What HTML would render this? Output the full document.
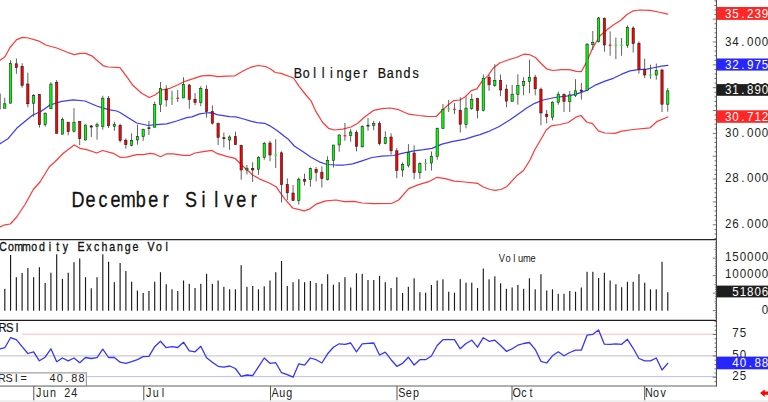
<!DOCTYPE html>
<html lang="en"><head><meta charset="utf-8"><title>December Silver</title>
<style>html,body{margin:0;padding:0;background:#fff;}body{width:768px;height:402px;overflow:hidden;}svg{display:block;}</style></head>
<body>
<svg width="768" height="402" viewBox="0 0 768 402" font-family="'Liberation Sans', Arial, sans-serif">
<rect x="0" y="0" width="768" height="402" fill="#ffffff"/>
<rect x="0" y="400.3" width="768" height="2" fill="#ececec"/>
<line x1="22" y1="334.2" x2="716" y2="334.2" stroke="#ffa4a4" stroke-width="0.75"/>
<line x1="0" y1="355.9" x2="716" y2="355.9" stroke="#b8b8b8" stroke-width="0.9"/>
<line x1="86" y1="376.6" x2="716" y2="376.6" stroke="#aaaaff" stroke-width="0.8"/>
<polyline points="0,60.3 5,56.7 10,47.5 16.7,39.7 22.5,37.3 28.3,38 38.3,40.8 45.8,45 56.7,48 66.7,52 74.2,54.7 80,53.3 85.8,53.3 91.7,55.8 103.3,65.8 108.3,67 120,67.6 126.7,76.7 133.3,85.8 141.7,93.3 149.2,97.5 155,95 161.7,90 170,88.3 177.5,85 185,81.3 193.3,78.7 201.7,75.8 210,75.3 218.3,76.7 226.7,76.2 235,75.8 241.7,71.7 248,68.5 252.7,66.7 258.5,65.5 266,66.7 271,69.2 275.2,72.5 281,73.3 293.5,78 299.3,86.7 306,95 311,100.8 316,111.7 322.7,122.5 328.5,128.3 334.3,130 342.7,129.2 351,127 357.7,123.3 364,117.5 373.7,110.3 382,108.7 390.3,108 398.7,109.7 408.7,114.2 418.7,115.5 427,116.3 436.3,116.5 442.5,110 448.1,105 453.8,100.6 460,100 465.6,96.5 471.3,90.6 476.9,88.8 482.5,80.6 488.1,75.6 493,68.3 499.7,63 508,60 516.3,57.5 523.8,54.2 529.7,54.7 535.5,57.5 541.3,63.7 547.2,69.2 553,70.5 561.3,69.7 569.7,69.7 576.3,71.3 581.3,71.7 586.7,61.7 592.2,49 600,35.8 606.7,30 613.3,25 620.8,20.3 626.7,14.7 633.3,10.8 640,10 650,10.3 658.3,12 667.8,14.2" fill="none" stroke="#ff3a3a" stroke-width="1.25" stroke-linejoin="round" stroke-linecap="round"/>
<polyline points="0,227 5,224.8 10.3,224 16.7,217 25,204.5 33.3,189.5 40,182 49.2,167 55,161.7 63.3,153.3 74.2,145 80,148.3 86.7,149.7 96.7,153 102.5,150.5 113.3,153.3 120,157.3 126.7,157.2 136.7,154.7 143.3,154.7 150,153.3 155,154.2 160.5,156.7 166.7,153.8 173.3,153.8 183.3,155.3 190,155.3 195,153 203.3,151.7 211.7,150.3 216.7,153.3 226.7,156.3 235,158.3 241.7,165 248,170.8 252.7,175 261,179.7 269.3,183 276,186.7 284.3,198.3 292.7,208 299.3,209.7 304.3,210.8 309.3,209.2 316,204.2 326,200.8 336,200 344.3,201.7 354.3,201.3 362,203 373.7,203.7 392,203.3 398.7,200 408.7,188.7 418.7,184.7 428.7,181.7 437,177.3 445.3,178.7 454.2,181.2 465,182 477.5,183.3 483.3,187 490,189.5 495,190.3 500.8,189.5 506.7,186.7 516.7,175.8 523.5,170.5 530,160 534.7,150 546.3,130 551.3,125.8 560,124.5 568.3,122.5 575.8,117.2 580.8,115.5 586.7,122 592.5,123.7 598.3,130.8 605,133 615,133.3 621.7,131.2 633.3,129.5 650,127.8 656.7,121.7 667.8,117" fill="none" stroke="#ff3a3a" stroke-width="1.25" stroke-linejoin="round" stroke-linecap="round"/>
<polyline points="0,143.8 8.3,138.4 16.7,128.3 23.3,122.7 32.5,115.2 41.25,111.2 50,105 61.7,101.3 73.3,99.8 85,101 96.7,106 108.3,109.7 116.7,111 120,112.5 128.3,117.8 136.7,123 148.3,125.5 155.8,124.7 166.7,123.9 176.7,121 186.7,117.6 192,116.9 199.5,113.9 205.75,113 212,112.6 217,114.6 229.5,116.7 235.75,116.9 242,118.5 250.75,121.2 257,122.7 264.5,123.3 269.5,125.6 277,130.6 284.3,136.3 288,138.9 294.3,146 302.7,151.5 311,157.2 319.3,161.8 326.8,164.5 336,165 344.3,165 352.7,163.8 362,160.8 372,157.5 382,156.2 393.7,155.5 402,153.3 413.7,150.8 423.7,149.7 432,148.3 442,144.2 452,141.7 465.3,139.2 473.7,136.3 480,134.7 488,131.7 498.8,126.7 509.7,120 518,114.2 526.3,108.3 534.7,103.3 543,100 554.7,97.5 568,95.8 576.3,94.2 584.7,91.2 596,84.8 605,81.2 613.3,78.3 621.7,74.2 630,70.8 638.3,69.7 646.7,69.2 655,67.5 661.7,66.2 667.8,65.4" fill="none" stroke="#3a3aff" stroke-width="1.25" stroke-linejoin="round" stroke-linecap="round"/>
<g>
<rect x="-0.6" y="93.5" width="1.2" height="15.8" fill="#3c3c3c"/>
<rect x="4.4" y="97.7" width="0.8" height="10.5" fill="#3c3c3c"/>
<rect x="3.65" y="103.8" width="2.3" height="4.4" fill="#00ff00" stroke="#181818" stroke-width="0.55"/>
<rect x="10.16" y="60.2" width="0.8" height="43" fill="#3c3c3c"/>
<rect x="9.41" y="63.5" width="2.3" height="39.7" fill="#00ff00" stroke="#181818" stroke-width="0.55"/>
<rect x="15.93" y="58.5" width="0.8" height="15.3" fill="#3c3c3c"/>
<rect x="15.18" y="63.8" width="2.3" height="3.9" fill="#ff0000" stroke="#181818" stroke-width="0.55"/>
<rect x="21.7" y="63.2" width="0.8" height="24.5" fill="#3c3c3c"/>
<rect x="20.95" y="66.3" width="2.3" height="19.2" fill="#ff0000" stroke="#181818" stroke-width="0.55"/>
<rect x="27.46" y="72.7" width="0.8" height="34.7" fill="#3c3c3c"/>
<rect x="26.71" y="84" width="2.3" height="19.8" fill="#ff0000" stroke="#181818" stroke-width="0.55"/>
<rect x="33.23" y="94" width="0.8" height="22.8" fill="#3c3c3c"/>
<rect x="32.48" y="95.7" width="2.3" height="7.5" fill="#00ff00" stroke="#181818" stroke-width="0.55"/>
<rect x="38.99" y="94" width="0.8" height="33.5" fill="#3c3c3c"/>
<rect x="38.24" y="94.7" width="2.3" height="30" fill="#ff0000" stroke="#181818" stroke-width="0.55"/>
<rect x="44.75" y="112.5" width="0.8" height="14.2" fill="#3c3c3c"/>
<rect x="44" y="113.2" width="2.3" height="11.5" fill="#00ff00" stroke="#181818" stroke-width="0.55"/>
<rect x="50.52" y="82.3" width="0.8" height="26.5" fill="#3c3c3c"/>
<rect x="49.77" y="84" width="2.3" height="24.8" fill="#00ff00" stroke="#181818" stroke-width="0.55"/>
<rect x="56.28" y="80.2" width="0.8" height="53.1" fill="#3c3c3c"/>
<rect x="55.53" y="82.2" width="2.3" height="51.1" fill="#ff0000" stroke="#181818" stroke-width="0.55"/>
<rect x="62.05" y="117.5" width="0.8" height="16.7" fill="#3c3c3c"/>
<rect x="61.3" y="119.7" width="2.3" height="14.5" fill="#00ff00" stroke="#181818" stroke-width="0.55"/>
<rect x="67.81" y="122.2" width="0.8" height="13.1" fill="#3c3c3c"/>
<rect x="67.06" y="122.2" width="2.3" height="9.5" fill="#ff0000" stroke="#181818" stroke-width="0.55"/>
<rect x="73.58" y="108.2" width="0.8" height="24.3" fill="#3c3c3c"/>
<rect x="72.83" y="122.5" width="2.3" height="8.7" fill="#00ff00" stroke="#181818" stroke-width="0.55"/>
<rect x="79.34" y="121.3" width="0.8" height="24" fill="#3c3c3c"/>
<rect x="78.59" y="121.3" width="2.3" height="17.4" fill="#ff0000" stroke="#181818" stroke-width="0.55"/>
<rect x="85.11" y="124.5" width="0.8" height="16" fill="#3c3c3c"/>
<rect x="84.36" y="125" width="2.3" height="15" fill="#00ff00" stroke="#181818" stroke-width="0.55"/>
<rect x="90.87" y="125" width="0.8" height="12" fill="#3c3c3c"/>
<rect x="89.82" y="125.6" width="2.9" height="1.8" fill="#4a1010"/>
<rect x="96.64" y="122.5" width="0.8" height="17.2" fill="#3c3c3c"/>
<rect x="95.89" y="124.7" width="2.3" height="2" fill="#00ff00" stroke="#181818" stroke-width="0.55"/>
<rect x="102.4" y="95.7" width="0.8" height="34" fill="#3c3c3c"/>
<rect x="101.65" y="98.2" width="2.3" height="28.1" fill="#00ff00" stroke="#181818" stroke-width="0.55"/>
<rect x="108.17" y="96" width="0.8" height="32" fill="#3c3c3c"/>
<rect x="107.42" y="98.2" width="2.3" height="27.6" fill="#ff0000" stroke="#181818" stroke-width="0.55"/>
<rect x="113.93" y="121.7" width="0.8" height="9.1" fill="#3c3c3c"/>
<rect x="113.18" y="124.2" width="2.3" height="2.1" fill="#00ff00" stroke="#181818" stroke-width="0.55"/>
<rect x="119.7" y="123.7" width="0.8" height="18.8" fill="#3c3c3c"/>
<rect x="118.95" y="125.3" width="2.3" height="15.2" fill="#ff0000" stroke="#181818" stroke-width="0.55"/>
<rect x="125.46" y="138.3" width="0.8" height="10.4" fill="#3c3c3c"/>
<rect x="124.71" y="140.2" width="2.3" height="4.5" fill="#ff0000" stroke="#181818" stroke-width="0.55"/>
<rect x="131.23" y="133.3" width="0.8" height="13" fill="#3c3c3c"/>
<rect x="130.48" y="140.5" width="2.3" height="4.8" fill="#00ff00" stroke="#181818" stroke-width="0.55"/>
<rect x="137" y="124.5" width="0.8" height="20.2" fill="#3c3c3c"/>
<rect x="136.25" y="136.7" width="2.3" height="3.3" fill="#00ff00" stroke="#181818" stroke-width="0.55"/>
<rect x="142.76" y="128.7" width="0.8" height="12.1" fill="#3c3c3c"/>
<rect x="142.01" y="129.7" width="2.3" height="7" fill="#00ff00" stroke="#181818" stroke-width="0.55"/>
<rect x="148.53" y="120.8" width="0.8" height="14.2" fill="#3c3c3c"/>
<rect x="147.48" y="127.3" width="2.9" height="1.6" fill="#0c4a0c"/>
<rect x="154.29" y="101.7" width="0.8" height="25.5" fill="#3c3c3c"/>
<rect x="153.54" y="104.7" width="2.3" height="22.5" fill="#00ff00" stroke="#181818" stroke-width="0.55"/>
<rect x="160.06" y="82" width="0.8" height="30" fill="#3c3c3c"/>
<rect x="159.31" y="88.7" width="2.3" height="16" fill="#00ff00" stroke="#181818" stroke-width="0.55"/>
<rect x="165.82" y="85.3" width="0.8" height="21.4" fill="#3c3c3c"/>
<rect x="165.07" y="89.7" width="2.3" height="10.3" fill="#ff0000" stroke="#181818" stroke-width="0.55"/>
<rect x="171.59" y="90.8" width="0.8" height="14.2" fill="#3c3c3c"/>
<rect x="170.64" y="97.65" width="2.7" height="1.3" fill="#30f030"/>
<rect x="177.35" y="90" width="0.8" height="12" fill="#3c3c3c"/>
<rect x="176.4" y="97.65" width="2.7" height="1.3" fill="#ff2020"/>
<rect x="183.12" y="77.2" width="0.8" height="20.8" fill="#3c3c3c"/>
<rect x="182.37" y="84.5" width="2.3" height="13.5" fill="#00ff00" stroke="#181818" stroke-width="0.55"/>
<rect x="188.88" y="84" width="0.8" height="24.8" fill="#3c3c3c"/>
<rect x="188.13" y="85" width="2.3" height="14.5" fill="#ff0000" stroke="#181818" stroke-width="0.55"/>
<rect x="194.64" y="93" width="0.8" height="12.3" fill="#3c3c3c"/>
<rect x="193.89" y="99.2" width="2.3" height="3.3" fill="#ff0000" stroke="#181818" stroke-width="0.55"/>
<rect x="200.41" y="86.2" width="0.8" height="20" fill="#3c3c3c"/>
<rect x="199.66" y="88.7" width="2.3" height="13.8" fill="#00ff00" stroke="#181818" stroke-width="0.55"/>
<rect x="206.17" y="85.3" width="0.8" height="32.2" fill="#3c3c3c"/>
<rect x="205.42" y="89.2" width="2.3" height="22.5" fill="#ff0000" stroke="#181818" stroke-width="0.55"/>
<rect x="211.94" y="105.3" width="0.8" height="19.2" fill="#3c3c3c"/>
<rect x="211.19" y="111.7" width="2.3" height="11.5" fill="#ff0000" stroke="#181818" stroke-width="0.55"/>
<rect x="217.7" y="122.5" width="0.8" height="22.5" fill="#3c3c3c"/>
<rect x="216.95" y="123.5" width="2.3" height="14" fill="#ff0000" stroke="#181818" stroke-width="0.55"/>
<rect x="223.47" y="132.5" width="0.8" height="15" fill="#3c3c3c"/>
<rect x="222.42" y="137.3" width="2.9" height="1.6" fill="#4a1010"/>
<rect x="229.23" y="135.3" width="0.8" height="14.4" fill="#3c3c3c"/>
<rect x="228.48" y="137" width="2.3" height="3" fill="#00ff00" stroke="#181818" stroke-width="0.55"/>
<rect x="235" y="131.7" width="0.8" height="13.3" fill="#3c3c3c"/>
<rect x="234.25" y="136.7" width="2.3" height="8" fill="#ff0000" stroke="#181818" stroke-width="0.55"/>
<rect x="240.76" y="144.7" width="0.8" height="35" fill="#3c3c3c"/>
<rect x="240.01" y="145.5" width="2.3" height="24.5" fill="#ff0000" stroke="#181818" stroke-width="0.55"/>
<rect x="246.53" y="165" width="0.8" height="9.5" fill="#3c3c3c"/>
<rect x="245.78" y="168.2" width="2.3" height="1.8" fill="#00ff00" stroke="#181818" stroke-width="0.55"/>
<rect x="252.29" y="162.2" width="0.8" height="19.8" fill="#3c3c3c"/>
<rect x="251.54" y="168.3" width="2.3" height="1.7" fill="#ff0000" stroke="#181818" stroke-width="0.55"/>
<rect x="258.06" y="156.3" width="0.8" height="18.4" fill="#3c3c3c"/>
<rect x="257.31" y="157.5" width="2.3" height="11.7" fill="#00ff00" stroke="#181818" stroke-width="0.55"/>
<rect x="263.83" y="142" width="0.8" height="17.7" fill="#3c3c3c"/>
<rect x="263.08" y="143.3" width="2.3" height="14" fill="#00ff00" stroke="#181818" stroke-width="0.55"/>
<rect x="269.59" y="140.8" width="0.8" height="20.4" fill="#3c3c3c"/>
<rect x="268.84" y="143" width="2.3" height="12" fill="#ff0000" stroke="#181818" stroke-width="0.55"/>
<rect x="275.36" y="139.2" width="0.8" height="28.8" fill="#3c3c3c"/>
<rect x="274.4" y="154.55" width="2.7" height="1.3" fill="#30f030"/>
<rect x="281.12" y="151.3" width="0.8" height="51.2" fill="#3c3c3c"/>
<rect x="280.37" y="152.8" width="2.3" height="31.9" fill="#ff0000" stroke="#181818" stroke-width="0.55"/>
<rect x="286.88" y="178.3" width="0.8" height="21.7" fill="#3c3c3c"/>
<rect x="286.13" y="184.5" width="2.3" height="8.3" fill="#ff0000" stroke="#181818" stroke-width="0.55"/>
<rect x="292.65" y="185" width="0.8" height="15.8" fill="#3c3c3c"/>
<rect x="291.9" y="193" width="2.3" height="7.5" fill="#ff0000" stroke="#181818" stroke-width="0.55"/>
<rect x="298.42" y="177.5" width="0.8" height="27.2" fill="#3c3c3c"/>
<rect x="297.67" y="179.2" width="2.3" height="21.1" fill="#00ff00" stroke="#181818" stroke-width="0.55"/>
<rect x="304.18" y="173.7" width="0.8" height="11.8" fill="#3c3c3c"/>
<rect x="303.43" y="179.2" width="2.3" height="2" fill="#ff0000" stroke="#181818" stroke-width="0.55"/>
<rect x="309.94" y="167.5" width="0.8" height="19.2" fill="#3c3c3c"/>
<rect x="309.19" y="168.7" width="2.3" height="11" fill="#00ff00" stroke="#181818" stroke-width="0.55"/>
<rect x="315.71" y="167" width="0.8" height="14.3" fill="#3c3c3c"/>
<rect x="314.96" y="169.5" width="2.3" height="3" fill="#ff0000" stroke="#181818" stroke-width="0.55"/>
<rect x="321.48" y="166.3" width="0.8" height="21.2" fill="#3c3c3c"/>
<rect x="320.73" y="172.2" width="2.3" height="6.5" fill="#ff0000" stroke="#181818" stroke-width="0.55"/>
<rect x="327.24" y="156.3" width="0.8" height="24.2" fill="#3c3c3c"/>
<rect x="326.49" y="160.3" width="2.3" height="19.4" fill="#00ff00" stroke="#181818" stroke-width="0.55"/>
<rect x="333" y="145" width="0.8" height="22.5" fill="#3c3c3c"/>
<rect x="332.25" y="145" width="2.3" height="15.3" fill="#00ff00" stroke="#181818" stroke-width="0.55"/>
<rect x="338.77" y="134.2" width="0.8" height="17.5" fill="#3c3c3c"/>
<rect x="338.02" y="135" width="2.3" height="10" fill="#00ff00" stroke="#181818" stroke-width="0.55"/>
<rect x="344.54" y="123" width="0.8" height="17.8" fill="#3c3c3c"/>
<rect x="343.58" y="135.15" width="2.7" height="1.3" fill="#ff2020"/>
<rect x="350.3" y="128.8" width="0.8" height="12.9" fill="#3c3c3c"/>
<rect x="349.55" y="132" width="2.3" height="3.5" fill="#00ff00" stroke="#181818" stroke-width="0.55"/>
<rect x="356.06" y="130.3" width="0.8" height="21" fill="#3c3c3c"/>
<rect x="355.31" y="132.5" width="2.3" height="13.8" fill="#ff0000" stroke="#181818" stroke-width="0.55"/>
<rect x="361.83" y="125.4" width="0.8" height="22.1" fill="#3c3c3c"/>
<rect x="361.08" y="126.7" width="2.3" height="20.1" fill="#00ff00" stroke="#181818" stroke-width="0.55"/>
<rect x="367.6" y="118" width="0.8" height="12.8" fill="#3c3c3c"/>
<rect x="366.55" y="124.8" width="2.9" height="1.7" fill="#0c4a0c"/>
<rect x="373.36" y="120.8" width="0.8" height="9.5" fill="#3c3c3c"/>
<rect x="372.61" y="123.3" width="2.3" height="2" fill="#00ff00" stroke="#181818" stroke-width="0.55"/>
<rect x="379.12" y="121.3" width="0.8" height="24" fill="#3c3c3c"/>
<rect x="378.38" y="123.7" width="2.3" height="20" fill="#ff0000" stroke="#181818" stroke-width="0.55"/>
<rect x="384.89" y="131.3" width="0.8" height="12.9" fill="#3c3c3c"/>
<rect x="384.14" y="137.5" width="2.3" height="6.2" fill="#00ff00" stroke="#181818" stroke-width="0.55"/>
<rect x="390.66" y="133.3" width="0.8" height="21.4" fill="#3c3c3c"/>
<rect x="389.91" y="137" width="2.3" height="13.8" fill="#ff0000" stroke="#181818" stroke-width="0.55"/>
<rect x="396.42" y="148.2" width="0.8" height="30.1" fill="#3c3c3c"/>
<rect x="395.67" y="150.8" width="2.3" height="19.5" fill="#ff0000" stroke="#181818" stroke-width="0.55"/>
<rect x="402.19" y="162.5" width="0.8" height="14.2" fill="#3c3c3c"/>
<rect x="401.44" y="164.6" width="2.3" height="5.4" fill="#00ff00" stroke="#181818" stroke-width="0.55"/>
<rect x="407.95" y="144.2" width="0.8" height="23.3" fill="#3c3c3c"/>
<rect x="407.2" y="152.3" width="2.3" height="13.1" fill="#00ff00" stroke="#181818" stroke-width="0.55"/>
<rect x="413.72" y="145.3" width="0.8" height="33.9" fill="#3c3c3c"/>
<rect x="412.97" y="153" width="2.3" height="19.5" fill="#ff0000" stroke="#181818" stroke-width="0.55"/>
<rect x="419.48" y="162.5" width="0.8" height="16.2" fill="#3c3c3c"/>
<rect x="418.73" y="163.3" width="2.3" height="9.5" fill="#00ff00" stroke="#181818" stroke-width="0.55"/>
<rect x="425.25" y="158.7" width="0.8" height="12.1" fill="#3c3c3c"/>
<rect x="424.29" y="162.65" width="2.7" height="1.3" fill="#30f030"/>
<rect x="431.01" y="151.5" width="0.8" height="19" fill="#3c3c3c"/>
<rect x="430.26" y="156.2" width="2.3" height="6.8" fill="#00ff00" stroke="#181818" stroke-width="0.55"/>
<rect x="436.78" y="127.5" width="0.8" height="32.2" fill="#3c3c3c"/>
<rect x="436.03" y="128.7" width="2.3" height="27.7" fill="#00ff00" stroke="#181818" stroke-width="0.55"/>
<rect x="442.54" y="104" width="0.8" height="24.7" fill="#3c3c3c"/>
<rect x="441.79" y="109.5" width="2.3" height="19.2" fill="#00ff00" stroke="#181818" stroke-width="0.55"/>
<rect x="448.31" y="100" width="0.8" height="11.9" fill="#3c3c3c"/>
<rect x="447.35" y="108.35" width="2.7" height="1.3" fill="#30f030"/>
<rect x="454.07" y="103.1" width="0.8" height="10.9" fill="#3c3c3c"/>
<rect x="453.12" y="108.75" width="2.7" height="1.3" fill="#ff2020"/>
<rect x="459.84" y="97.3" width="0.8" height="35.2" fill="#3c3c3c"/>
<rect x="459.09" y="110.2" width="2.3" height="14" fill="#ff0000" stroke="#181818" stroke-width="0.55"/>
<rect x="465.6" y="96.9" width="0.8" height="31.4" fill="#3c3c3c"/>
<rect x="464.85" y="108.2" width="2.3" height="16.3" fill="#00ff00" stroke="#181818" stroke-width="0.55"/>
<rect x="471.37" y="93.9" width="0.8" height="16" fill="#3c3c3c"/>
<rect x="470.62" y="99.5" width="2.3" height="8.9" fill="#00ff00" stroke="#181818" stroke-width="0.55"/>
<rect x="477.13" y="97.7" width="0.8" height="20.7" fill="#3c3c3c"/>
<rect x="476.38" y="98.6" width="2.3" height="11.9" fill="#ff0000" stroke="#181818" stroke-width="0.55"/>
<rect x="482.89" y="74.5" width="0.8" height="36.9" fill="#3c3c3c"/>
<rect x="482.14" y="78.2" width="2.3" height="32.2" fill="#00ff00" stroke="#181818" stroke-width="0.55"/>
<rect x="488.66" y="75" width="0.8" height="15.9" fill="#3c3c3c"/>
<rect x="487.91" y="77.3" width="2.3" height="7.5" fill="#ff0000" stroke="#181818" stroke-width="0.55"/>
<rect x="494.43" y="64.2" width="0.8" height="22.6" fill="#3c3c3c"/>
<rect x="493.68" y="80.5" width="2.3" height="5" fill="#00ff00" stroke="#181818" stroke-width="0.55"/>
<rect x="500.19" y="74.5" width="0.8" height="21.7" fill="#3c3c3c"/>
<rect x="499.44" y="80.5" width="2.3" height="9.5" fill="#ff0000" stroke="#181818" stroke-width="0.55"/>
<rect x="505.95" y="84.5" width="0.8" height="22.7" fill="#3c3c3c"/>
<rect x="505.2" y="89.1" width="2.3" height="12" fill="#ff0000" stroke="#181818" stroke-width="0.55"/>
<rect x="511.72" y="85" width="0.8" height="17" fill="#3c3c3c"/>
<rect x="510.97" y="94.2" width="2.3" height="7" fill="#00ff00" stroke="#181818" stroke-width="0.55"/>
<rect x="517.48" y="74.2" width="0.8" height="30.5" fill="#3c3c3c"/>
<rect x="516.73" y="85.3" width="2.3" height="9.4" fill="#00ff00" stroke="#181818" stroke-width="0.55"/>
<rect x="523.25" y="77.2" width="0.8" height="18.1" fill="#3c3c3c"/>
<rect x="522.5" y="81.3" width="2.3" height="4" fill="#00ff00" stroke="#181818" stroke-width="0.55"/>
<rect x="529.01" y="59.7" width="0.8" height="33.6" fill="#3c3c3c"/>
<rect x="528.26" y="77.2" width="2.3" height="4.1" fill="#00ff00" stroke="#181818" stroke-width="0.55"/>
<rect x="534.78" y="74.7" width="0.8" height="20.6" fill="#3c3c3c"/>
<rect x="534.03" y="77.2" width="2.3" height="11.6" fill="#ff0000" stroke="#181818" stroke-width="0.55"/>
<rect x="540.54" y="87.5" width="0.8" height="37.8" fill="#3c3c3c"/>
<rect x="539.79" y="89.2" width="2.3" height="23.8" fill="#ff0000" stroke="#181818" stroke-width="0.55"/>
<rect x="546.31" y="110" width="0.8" height="13.3" fill="#3c3c3c"/>
<rect x="545.56" y="114.2" width="2.3" height="2.5" fill="#ff0000" stroke="#181818" stroke-width="0.55"/>
<rect x="552.07" y="101.3" width="0.8" height="19" fill="#3c3c3c"/>
<rect x="551.32" y="102.2" width="2.3" height="15" fill="#00ff00" stroke="#181818" stroke-width="0.55"/>
<rect x="557.84" y="91.7" width="0.8" height="13" fill="#3c3c3c"/>
<rect x="557.09" y="94.2" width="2.3" height="8" fill="#00ff00" stroke="#181818" stroke-width="0.55"/>
<rect x="563.6" y="93.3" width="0.8" height="18.7" fill="#3c3c3c"/>
<rect x="562.85" y="94.5" width="2.3" height="6.8" fill="#ff0000" stroke="#181818" stroke-width="0.55"/>
<rect x="569.37" y="90.8" width="0.8" height="21.2" fill="#3c3c3c"/>
<rect x="568.62" y="95" width="2.3" height="6.7" fill="#00ff00" stroke="#181818" stroke-width="0.55"/>
<rect x="575.13" y="79.2" width="0.8" height="17.8" fill="#3c3c3c"/>
<rect x="574.38" y="90.8" width="2.3" height="4.7" fill="#00ff00" stroke="#181818" stroke-width="0.55"/>
<rect x="580.9" y="83" width="0.8" height="16.6" fill="#3c3c3c"/>
<rect x="579.85" y="89.8" width="2.9" height="1.7" fill="#4a1010"/>
<rect x="586.66" y="43" width="0.8" height="48.3" fill="#3c3c3c"/>
<rect x="585.91" y="44.2" width="2.3" height="46.1" fill="#00ff00" stroke="#181818" stroke-width="0.55"/>
<rect x="592.43" y="31" width="0.8" height="19" fill="#3c3c3c"/>
<rect x="591.68" y="42.5" width="2.3" height="2.2" fill="#00ff00" stroke="#181818" stroke-width="0.55"/>
<rect x="598.19" y="17" width="0.8" height="25.5" fill="#3c3c3c"/>
<rect x="597.44" y="18" width="2.3" height="23.7" fill="#00ff00" stroke="#181818" stroke-width="0.55"/>
<rect x="603.96" y="17.5" width="0.8" height="34.2" fill="#3c3c3c"/>
<rect x="603.21" y="18.3" width="2.3" height="26.7" fill="#ff0000" stroke="#181818" stroke-width="0.55"/>
<rect x="609.72" y="31.3" width="0.8" height="24.5" fill="#3c3c3c"/>
<rect x="608.77" y="44.65" width="2.7" height="1.3" fill="#ff2020"/>
<rect x="615.49" y="37.5" width="0.8" height="21.7" fill="#3c3c3c"/>
<rect x="614.54" y="44.65" width="2.7" height="1.3" fill="#30f030"/>
<rect x="621.25" y="38" width="0.8" height="17.8" fill="#3c3c3c"/>
<rect x="620.3" y="44.65" width="2.7" height="1.3" fill="#30f030"/>
<rect x="627.02" y="25.3" width="0.8" height="22.5" fill="#3c3c3c"/>
<rect x="626.27" y="27.5" width="2.3" height="17.8" fill="#00ff00" stroke="#181818" stroke-width="0.55"/>
<rect x="632.78" y="26.3" width="0.8" height="26.2" fill="#3c3c3c"/>
<rect x="632.03" y="28" width="2.3" height="15.7" fill="#ff0000" stroke="#181818" stroke-width="0.55"/>
<rect x="638.55" y="41.3" width="0.8" height="32.4" fill="#3c3c3c"/>
<rect x="637.8" y="43.3" width="2.3" height="26.4" fill="#ff0000" stroke="#181818" stroke-width="0.55"/>
<rect x="644.31" y="58.7" width="0.8" height="19.3" fill="#3c3c3c"/>
<rect x="643.56" y="69.7" width="2.3" height="5.3" fill="#ff0000" stroke="#181818" stroke-width="0.55"/>
<rect x="650.08" y="64.7" width="0.8" height="14" fill="#3c3c3c"/>
<rect x="649.13" y="74.35" width="2.7" height="1.3" fill="#30f030"/>
<rect x="655.84" y="63.5" width="0.8" height="16.2" fill="#3c3c3c"/>
<rect x="655.09" y="70.3" width="2.3" height="4.7" fill="#00ff00" stroke="#181818" stroke-width="0.55"/>
<rect x="661.61" y="68.7" width="0.8" height="43.3" fill="#3c3c3c"/>
<rect x="660.86" y="70" width="2.3" height="34.2" fill="#ff0000" stroke="#181818" stroke-width="0.55"/>
<rect x="667.37" y="88.1" width="0.8" height="23.6" fill="#3c3c3c"/>
<rect x="666.62" y="90.9" width="2.3" height="13.3" fill="#00ff00" stroke="#181818" stroke-width="0.55"/>
</g>
<g fill="#1c1c1c">
<rect x="4.23" y="288.8" width="1.15" height="21.9"/>
<rect x="9.99" y="255" width="1.15" height="55.7"/>
<rect x="15.76" y="277.2" width="1.15" height="33.5"/>
<rect x="21.52" y="273" width="1.15" height="37.7"/>
<rect x="27.29" y="268" width="1.15" height="42.7"/>
<rect x="33.05" y="277.2" width="1.15" height="33.5"/>
<rect x="38.82" y="267.2" width="1.15" height="43.5"/>
<rect x="44.58" y="283" width="1.15" height="27.7"/>
<rect x="50.35" y="272.7" width="1.15" height="38"/>
<rect x="56.11" y="254.3" width="1.15" height="56.4"/>
<rect x="61.88" y="278.8" width="1.15" height="31.9"/>
<rect x="67.65" y="272.7" width="1.15" height="38"/>
<rect x="73.41" y="262.2" width="1.15" height="48.5"/>
<rect x="79.17" y="258.5" width="1.15" height="52.2"/>
<rect x="84.94" y="277.2" width="1.15" height="33.5"/>
<rect x="90.7" y="288.3" width="1.15" height="22.4"/>
<rect x="96.47" y="277.2" width="1.15" height="33.5"/>
<rect x="102.23" y="254.3" width="1.15" height="56.4"/>
<rect x="108" y="261.7" width="1.15" height="49"/>
<rect x="113.77" y="282.2" width="1.15" height="28.5"/>
<rect x="119.53" y="263" width="1.15" height="47.7"/>
<rect x="125.3" y="271" width="1.15" height="39.7"/>
<rect x="131.06" y="281.7" width="1.15" height="29"/>
<rect x="136.83" y="290.5" width="1.15" height="20.2"/>
<rect x="142.59" y="293" width="1.15" height="17.7"/>
<rect x="148.36" y="291" width="1.15" height="19.7"/>
<rect x="154.12" y="281.7" width="1.15" height="29"/>
<rect x="159.89" y="272.2" width="1.15" height="38.5"/>
<rect x="165.65" y="284.2" width="1.15" height="26.5"/>
<rect x="171.42" y="289.3" width="1.15" height="21.4"/>
<rect x="177.18" y="291" width="1.15" height="19.7"/>
<rect x="182.95" y="280.5" width="1.15" height="30.2"/>
<rect x="188.71" y="283.8" width="1.15" height="26.9"/>
<rect x="194.47" y="288" width="1.15" height="22.7"/>
<rect x="200.24" y="283.8" width="1.15" height="26.9"/>
<rect x="206" y="273.8" width="1.15" height="36.9"/>
<rect x="211.77" y="283.8" width="1.15" height="26.9"/>
<rect x="217.53" y="280.5" width="1.15" height="30.2"/>
<rect x="223.3" y="286.8" width="1.15" height="23.9"/>
<rect x="229.06" y="289.3" width="1.15" height="21.4"/>
<rect x="234.83" y="289.3" width="1.15" height="21.4"/>
<rect x="240.59" y="265.2" width="1.15" height="45.5"/>
<rect x="246.36" y="286.8" width="1.15" height="23.9"/>
<rect x="252.12" y="286" width="1.15" height="24.7"/>
<rect x="257.89" y="289.3" width="1.15" height="21.4"/>
<rect x="263.66" y="286.3" width="1.15" height="24.4"/>
<rect x="269.42" y="280.5" width="1.15" height="30.2"/>
<rect x="275.19" y="272.2" width="1.15" height="38.5"/>
<rect x="280.95" y="261" width="1.15" height="49.7"/>
<rect x="286.71" y="286" width="1.15" height="24.7"/>
<rect x="292.48" y="282.2" width="1.15" height="28.5"/>
<rect x="298.25" y="279.2" width="1.15" height="31.5"/>
<rect x="304.01" y="282.2" width="1.15" height="28.5"/>
<rect x="309.77" y="281" width="1.15" height="29.7"/>
<rect x="315.54" y="283" width="1.15" height="27.7"/>
<rect x="321.31" y="283.8" width="1.15" height="26.9"/>
<rect x="327.07" y="274.2" width="1.15" height="36.5"/>
<rect x="332.83" y="284.7" width="1.15" height="26"/>
<rect x="338.6" y="282.2" width="1.15" height="28.5"/>
<rect x="344.37" y="277.2" width="1.15" height="33.5"/>
<rect x="350.13" y="287.5" width="1.15" height="23.2"/>
<rect x="355.89" y="273.3" width="1.15" height="37.4"/>
<rect x="361.66" y="273.8" width="1.15" height="36.9"/>
<rect x="367.43" y="280" width="1.15" height="30.7"/>
<rect x="373.19" y="280" width="1.15" height="30.7"/>
<rect x="378.95" y="275.8" width="1.15" height="34.9"/>
<rect x="384.72" y="282.2" width="1.15" height="28.5"/>
<rect x="390.49" y="288" width="1.15" height="22.7"/>
<rect x="396.25" y="277.2" width="1.15" height="33.5"/>
<rect x="402.01" y="293" width="1.15" height="17.7"/>
<rect x="407.78" y="286.8" width="1.15" height="23.9"/>
<rect x="413.55" y="278.3" width="1.15" height="32.4"/>
<rect x="419.31" y="292.2" width="1.15" height="18.5"/>
<rect x="425.07" y="292.7" width="1.15" height="18"/>
<rect x="430.84" y="285" width="1.15" height="25.7"/>
<rect x="436.61" y="280.5" width="1.15" height="30.2"/>
<rect x="442.37" y="279.3" width="1.15" height="31.4"/>
<rect x="448.13" y="291.7" width="1.15" height="19"/>
<rect x="453.9" y="292.7" width="1.15" height="18"/>
<rect x="459.67" y="279.2" width="1.15" height="31.5"/>
<rect x="465.43" y="282.7" width="1.15" height="28"/>
<rect x="471.19" y="282.7" width="1.15" height="28"/>
<rect x="476.96" y="288" width="1.15" height="22.7"/>
<rect x="482.72" y="268.5" width="1.15" height="42.2"/>
<rect x="488.49" y="279.3" width="1.15" height="31.4"/>
<rect x="494.25" y="276.3" width="1.15" height="34.4"/>
<rect x="500.02" y="283.3" width="1.15" height="27.4"/>
<rect x="505.78" y="288.8" width="1.15" height="21.9"/>
<rect x="511.55" y="287.5" width="1.15" height="23.2"/>
<rect x="517.31" y="285" width="1.15" height="25.7"/>
<rect x="523.08" y="288.8" width="1.15" height="21.9"/>
<rect x="528.84" y="278.3" width="1.15" height="32.4"/>
<rect x="534.61" y="289.3" width="1.15" height="21.4"/>
<rect x="540.37" y="274.2" width="1.15" height="36.5"/>
<rect x="546.14" y="290.5" width="1.15" height="20.2"/>
<rect x="551.9" y="289.3" width="1.15" height="21.4"/>
<rect x="557.67" y="293.8" width="1.15" height="16.9"/>
<rect x="563.43" y="293.8" width="1.15" height="16.9"/>
<rect x="569.2" y="291" width="1.15" height="19.7"/>
<rect x="574.96" y="291.7" width="1.15" height="19"/>
<rect x="580.73" y="287.5" width="1.15" height="23.2"/>
<rect x="586.49" y="271.8" width="1.15" height="38.9"/>
<rect x="592.26" y="271.8" width="1.15" height="38.9"/>
<rect x="598.02" y="278" width="1.15" height="32.7"/>
<rect x="603.79" y="272.7" width="1.15" height="38"/>
<rect x="609.55" y="280.5" width="1.15" height="30.2"/>
<rect x="615.32" y="284.2" width="1.15" height="26.5"/>
<rect x="621.08" y="287.2" width="1.15" height="23.5"/>
<rect x="626.85" y="281.8" width="1.15" height="28.9"/>
<rect x="632.61" y="281.8" width="1.15" height="28.9"/>
<rect x="638.38" y="274.2" width="1.15" height="36.5"/>
<rect x="644.14" y="282.7" width="1.15" height="28"/>
<rect x="649.91" y="289.3" width="1.15" height="21.4"/>
<rect x="655.67" y="289.3" width="1.15" height="21.4"/>
<rect x="661.44" y="261.8" width="1.15" height="48.9"/>
<rect x="667.2" y="292.2" width="1.15" height="18.5"/>
</g>
<polyline points="0,348.8 4.8,347.7 10.56,337.7 16.33,339.7 22.09,346.7 27.86,353.5 33.62,351.8 39.39,360.8 45.15,357.2 50.92,348.8 56.68,361.7 62.45,358 68.22,360.8 73.98,358 79.74,362.7 85.51,357.5 91.27,358.5 97.04,357.7 102.8,349.2 108.57,357.5 114.33,357.5 120.1,362.2 125.86,363.3 131.63,361.7 137.4,359.7 143.16,356.7 148.93,356.3 154.69,346.7 160.46,341.3 166.22,347.7 171.99,346.7 177.75,347.5 183.52,342.2 189.28,350.8 195.04,351.8 200.81,346.3 206.57,357.7 212.34,362.2 218.1,366.3 223.87,367.2 229.63,366 235.4,368.5 241.16,376.3 246.93,375 252.69,375.7 258.46,366.8 264.23,358 269.99,363.3 275.75,362.7 281.52,372.7 287.28,374.7 293.05,377.2 298.81,363.8 304.58,365.2 310.34,358 316.11,359.7 321.88,363 327.64,353.8 333.4,347.2 339.17,343.8 344.94,344.3 350.7,343 356.46,351.8 362.23,343.8 368,343.3 373.76,343 379.52,355 385.29,352.2 391.06,359.7 396.82,366.3 402.58,363.3 408.35,357.2 414.12,365 419.88,359.7 425.64,359.7 431.41,356 437.18,345.5 442.94,339.7 448.7,339.7 454.47,339.7 460.24,348.8 466,343.5 471.76,340.2 477.53,347.2 483.29,337.7 489.06,341.3 494.82,340.2 500.59,345.5 506.35,351.3 512.12,348.8 517.88,345.2 523.65,343.5 529.41,342.5 535.18,349.3 540.94,361.3 546.71,363 552.47,355.8 558.24,351.8 564,355.8 569.77,352.5 575.53,350.2 581.3,350.2 587.06,335.2 592.83,334.3 598.59,330 604.36,344.2 610.12,344.3 615.89,343.8 621.65,344.3 627.42,339.3 633.18,348.3 638.95,358.5 644.71,360.8 650.48,360.8 656.24,358 662.01,370 667.77,363.3" fill="none" stroke="#3434ff" stroke-width="1.3" stroke-linejoin="round" stroke-linecap="round"/>
<line x1="0" y1="239.6" x2="716.85" y2="239.6" stroke="#242424" stroke-width="1.15"/>
<line x1="0" y1="320.35" x2="716.85" y2="320.35" stroke="#1c1c1c" stroke-width="1.15"/>
<line x1="0" y1="386" x2="716.85" y2="386" stroke="#626262" stroke-width="1.1"/>
<line x1="716.45" y1="0" x2="716.45" y2="386.5" stroke="#505050" stroke-width="1.05"/>
<g stroke="#444444" stroke-width="0.7">
<line x1="714.45" y1="238.51" x2="716.45" y2="238.51"/>
<line x1="714.45" y1="233.94" x2="716.45" y2="233.94"/>
<line x1="714.45" y1="229.37" x2="716.45" y2="229.37"/>
<line x1="712.75" y1="224.8" x2="716.45" y2="224.8"/>
<line x1="714.45" y1="220.23" x2="716.45" y2="220.23"/>
<line x1="714.45" y1="215.66" x2="716.45" y2="215.66"/>
<line x1="714.45" y1="211.09" x2="716.45" y2="211.09"/>
<line x1="714.45" y1="206.52" x2="716.45" y2="206.52"/>
<line x1="712.75" y1="201.95" x2="716.45" y2="201.95"/>
<line x1="714.45" y1="197.38" x2="716.45" y2="197.38"/>
<line x1="714.45" y1="192.81" x2="716.45" y2="192.81"/>
<line x1="714.45" y1="188.24" x2="716.45" y2="188.24"/>
<line x1="714.45" y1="183.67" x2="716.45" y2="183.67"/>
<line x1="712.75" y1="179.1" x2="716.45" y2="179.1"/>
<line x1="714.45" y1="174.53" x2="716.45" y2="174.53"/>
<line x1="714.45" y1="169.96" x2="716.45" y2="169.96"/>
<line x1="714.45" y1="165.39" x2="716.45" y2="165.39"/>
<line x1="714.45" y1="160.82" x2="716.45" y2="160.82"/>
<line x1="712.75" y1="156.25" x2="716.45" y2="156.25"/>
<line x1="714.45" y1="151.68" x2="716.45" y2="151.68"/>
<line x1="714.45" y1="147.11" x2="716.45" y2="147.11"/>
<line x1="714.45" y1="142.54" x2="716.45" y2="142.54"/>
<line x1="714.45" y1="137.97" x2="716.45" y2="137.97"/>
<line x1="712.75" y1="133.4" x2="716.45" y2="133.4"/>
<line x1="714.45" y1="128.83" x2="716.45" y2="128.83"/>
<line x1="714.45" y1="124.26" x2="716.45" y2="124.26"/>
<line x1="714.45" y1="119.69" x2="716.45" y2="119.69"/>
<line x1="714.45" y1="115.12" x2="716.45" y2="115.12"/>
<line x1="712.75" y1="110.55" x2="716.45" y2="110.55"/>
<line x1="714.45" y1="105.98" x2="716.45" y2="105.98"/>
<line x1="714.45" y1="101.41" x2="716.45" y2="101.41"/>
<line x1="714.45" y1="96.84" x2="716.45" y2="96.84"/>
<line x1="714.45" y1="92.27" x2="716.45" y2="92.27"/>
<line x1="712.75" y1="87.7" x2="716.45" y2="87.7"/>
<line x1="714.45" y1="83.13" x2="716.45" y2="83.13"/>
<line x1="714.45" y1="78.56" x2="716.45" y2="78.56"/>
<line x1="714.45" y1="73.99" x2="716.45" y2="73.99"/>
<line x1="714.45" y1="69.42" x2="716.45" y2="69.42"/>
<line x1="712.75" y1="64.85" x2="716.45" y2="64.85"/>
<line x1="714.45" y1="60.28" x2="716.45" y2="60.28"/>
<line x1="714.45" y1="55.71" x2="716.45" y2="55.71"/>
<line x1="714.45" y1="51.14" x2="716.45" y2="51.14"/>
<line x1="714.45" y1="46.57" x2="716.45" y2="46.57"/>
<line x1="712.75" y1="42" x2="716.45" y2="42"/>
<line x1="714.45" y1="37.43" x2="716.45" y2="37.43"/>
<line x1="714.45" y1="32.86" x2="716.45" y2="32.86"/>
<line x1="714.45" y1="28.29" x2="716.45" y2="28.29"/>
<line x1="714.45" y1="23.72" x2="716.45" y2="23.72"/>
<line x1="712.75" y1="19.15" x2="716.45" y2="19.15"/>
<line x1="714.45" y1="14.58" x2="716.45" y2="14.58"/>
<line x1="714.45" y1="10.01" x2="716.45" y2="10.01"/>
<line x1="714.45" y1="5.44" x2="716.45" y2="5.44"/>
<line x1="714.45" y1="0.87" x2="716.45" y2="0.87"/>
<line x1="715.15" y1="317.6" x2="716.45" y2="317.6"/>
<line x1="715.15" y1="315.85" x2="716.45" y2="315.85"/>
<line x1="715.15" y1="314.1" x2="716.45" y2="314.1"/>
<line x1="715.15" y1="312.35" x2="716.45" y2="312.35"/>
<line x1="712.75" y1="310.6" x2="716.45" y2="310.6"/>
<line x1="715.15" y1="308.85" x2="716.45" y2="308.85"/>
<line x1="715.15" y1="307.1" x2="716.45" y2="307.1"/>
<line x1="715.15" y1="305.35" x2="716.45" y2="305.35"/>
<line x1="715.15" y1="303.6" x2="716.45" y2="303.6"/>
<line x1="714.45" y1="301.85" x2="716.45" y2="301.85"/>
<line x1="715.15" y1="300.1" x2="716.45" y2="300.1"/>
<line x1="715.15" y1="298.35" x2="716.45" y2="298.35"/>
<line x1="715.15" y1="296.6" x2="716.45" y2="296.6"/>
<line x1="715.15" y1="294.85" x2="716.45" y2="294.85"/>
<line x1="712.75" y1="293.1" x2="716.45" y2="293.1"/>
<line x1="715.15" y1="291.35" x2="716.45" y2="291.35"/>
<line x1="715.15" y1="289.6" x2="716.45" y2="289.6"/>
<line x1="715.15" y1="287.85" x2="716.45" y2="287.85"/>
<line x1="715.15" y1="286.1" x2="716.45" y2="286.1"/>
<line x1="714.45" y1="284.35" x2="716.45" y2="284.35"/>
<line x1="715.15" y1="282.6" x2="716.45" y2="282.6"/>
<line x1="715.15" y1="280.85" x2="716.45" y2="280.85"/>
<line x1="715.15" y1="279.1" x2="716.45" y2="279.1"/>
<line x1="715.15" y1="277.35" x2="716.45" y2="277.35"/>
<line x1="712.75" y1="275.6" x2="716.45" y2="275.6"/>
<line x1="715.15" y1="273.85" x2="716.45" y2="273.85"/>
<line x1="715.15" y1="272.1" x2="716.45" y2="272.1"/>
<line x1="715.15" y1="270.35" x2="716.45" y2="270.35"/>
<line x1="715.15" y1="268.6" x2="716.45" y2="268.6"/>
<line x1="714.45" y1="266.85" x2="716.45" y2="266.85"/>
<line x1="715.15" y1="265.1" x2="716.45" y2="265.1"/>
<line x1="715.15" y1="263.35" x2="716.45" y2="263.35"/>
<line x1="715.15" y1="261.6" x2="716.45" y2="261.6"/>
<line x1="715.15" y1="259.85" x2="716.45" y2="259.85"/>
<line x1="712.75" y1="258.1" x2="716.45" y2="258.1"/>
<line x1="715.15" y1="256.35" x2="716.45" y2="256.35"/>
<line x1="715.15" y1="254.6" x2="716.45" y2="254.6"/>
<line x1="715.15" y1="252.85" x2="716.45" y2="252.85"/>
<line x1="715.15" y1="251.1" x2="716.45" y2="251.1"/>
<line x1="714.45" y1="249.35" x2="716.45" y2="249.35"/>
<line x1="715.15" y1="247.6" x2="716.45" y2="247.6"/>
<line x1="715.15" y1="245.85" x2="716.45" y2="245.85"/>
<line x1="715.15" y1="244.1" x2="716.45" y2="244.1"/>
<line x1="715.15" y1="242.35" x2="716.45" y2="242.35"/>
<line x1="714.45" y1="381.58" x2="716.45" y2="381.58"/>
<line x1="712.75" y1="377.3" x2="716.45" y2="377.3"/>
<line x1="714.45" y1="373.02" x2="716.45" y2="373.02"/>
<line x1="714.45" y1="368.74" x2="716.45" y2="368.74"/>
<line x1="714.45" y1="364.46" x2="716.45" y2="364.46"/>
<line x1="714.45" y1="360.18" x2="716.45" y2="360.18"/>
<line x1="712.75" y1="355.9" x2="716.45" y2="355.9"/>
<line x1="714.45" y1="351.62" x2="716.45" y2="351.62"/>
<line x1="714.45" y1="347.34" x2="716.45" y2="347.34"/>
<line x1="714.45" y1="343.06" x2="716.45" y2="343.06"/>
<line x1="714.45" y1="338.78" x2="716.45" y2="338.78"/>
<line x1="712.75" y1="334.5" x2="716.45" y2="334.5"/>
<line x1="714.45" y1="330.22" x2="716.45" y2="330.22"/>
<line x1="714.45" y1="325.94" x2="716.45" y2="325.94"/>
<line x1="714.45" y1="321.66" x2="716.45" y2="321.66"/>
</g>
<text x="728.19 735.57 742.95 750.33 757.71 765.09" y="45.8" font-size="11.6" fill="#1e1e1e" font-weight="normal" text-anchor="middle" style="white-space:pre" transform="translate(0,45.8) scale(1,1.09) translate(0,-45.8)" >34.000</text>
<text x="728.19 735.57 742.95 750.33 757.71 765.09" y="91.6" font-size="11.6" fill="#1e1e1e" font-weight="normal" text-anchor="middle" style="white-space:pre" transform="translate(0,91.6) scale(1,1.09) translate(0,-91.6)" >32.000</text>
<text x="728.19 735.57 742.95 750.33 757.71 765.09" y="136.9" font-size="11.6" fill="#1e1e1e" font-weight="normal" text-anchor="middle" style="white-space:pre" transform="translate(0,136.9) scale(1,1.09) translate(0,-136.9)" >30.000</text>
<text x="728.19 735.57 742.95 750.33 757.71 765.09" y="182.2" font-size="11.6" fill="#1e1e1e" font-weight="normal" text-anchor="middle" style="white-space:pre" transform="translate(0,182.2) scale(1,1.09) translate(0,-182.2)" >28.000</text>
<text x="728.19 735.57 742.95 750.33 757.71 765.09" y="228" font-size="11.6" fill="#1e1e1e" font-weight="normal" text-anchor="middle" style="white-space:pre" transform="translate(0,228) scale(1,1.09) translate(0,-228)" >26.000</text>
<text x="728.19 735.57 742.95 750.33 757.71 765.09" y="261" font-size="11.6" fill="#1e1e1e" font-weight="normal" text-anchor="middle" style="white-space:pre" transform="translate(0,261) scale(1,1.09) translate(0,-261)" >150000</text>
<text x="728.19 735.57 742.95 750.33 757.71 765.09" y="278.3" font-size="11.6" fill="#1e1e1e" font-weight="normal" text-anchor="middle" style="white-space:pre" transform="translate(0,278.3) scale(1,1.09) translate(0,-278.3)" >100000</text>
<text x="764.99" y="313.6" font-size="11.6" fill="#1e1e1e" font-weight="normal" text-anchor="middle" style="white-space:pre" transform="translate(0,313.6) scale(1,1.09) translate(0,-313.6)" >0</text>
<text x="735.49 742.87" y="336.9" font-size="11.6" fill="#1e1e1e" font-weight="normal" text-anchor="middle" style="white-space:pre" transform="translate(0,336.9) scale(1,1.09) translate(0,-336.9)" >75</text>
<text x="735.49 742.87" y="358.6" font-size="11.6" fill="#1e1e1e" font-weight="normal" text-anchor="middle" style="white-space:pre" transform="translate(0,358.6) scale(1,1.09) translate(0,-358.6)" >50</text>
<text x="735.49 742.87" y="379.7" font-size="11.6" fill="#1e1e1e" font-weight="normal" text-anchor="middle" style="white-space:pre" transform="translate(0,379.7) scale(1,1.09) translate(0,-379.7)" >25</text>
<rect x="716.7" y="7" width="52" height="12.9" fill="#ff2626"/>
<text x="728.19 735.57 742.95 750.33 757.71 765.09" y="17.7" font-size="11.6" fill="#ffffff" font-weight="normal" text-anchor="middle" style="white-space:pre" transform="translate(0,17.7) scale(1,1.09) translate(0,-17.7)" >35.239</text>
<rect x="716.7" y="58.5" width="52" height="12.1" fill="#2626ff"/>
<text x="728.19 735.57 742.95 750.33 757.71 765.09" y="68.8" font-size="11.6" fill="#ffffff" font-weight="normal" text-anchor="middle" style="white-space:pre" transform="translate(0,68.8) scale(1,1.09) translate(0,-68.8)" >32.975</text>
<rect x="716.7" y="84.1" width="52" height="11.7" fill="#1e1e1e"/>
<text x="728.19 735.57 742.95 750.33 757.71 765.09" y="93.7" font-size="11.6" fill="#ffffff" font-weight="normal" text-anchor="middle" style="white-space:pre" transform="translate(0,93.7) scale(1,1.09) translate(0,-93.7)" >31.890</text>
<rect x="716.7" y="110.3" width="52" height="12.5" fill="#ff2626"/>
<text x="728.19 735.57 742.95 750.33 757.71 765.09" y="120.6" font-size="11.6" fill="#ffffff" font-weight="normal" text-anchor="middle" style="white-space:pre" transform="translate(0,120.6) scale(1,1.09) translate(0,-120.6)" >30.712</text>
<rect x="716.7" y="285.6" width="52" height="11.8" fill="#1e1e1e"/>
<text x="735.49 742.87 750.25 757.63 765.01" y="295.6" font-size="11.6" fill="#ffffff" font-weight="normal" text-anchor="middle" style="white-space:pre" transform="translate(0,295.6) scale(1,1.09) translate(0,-295.6)" >51806</text>
<rect x="716.7" y="356.6" width="52" height="12.7" fill="#2626ff"/>
<text x="735.49 742.87 750.25 757.63 765.01" y="367" font-size="11.6" fill="#ffffff" font-weight="normal" text-anchor="middle" style="white-space:pre" transform="translate(0,367) scale(1,1.09) translate(0,-367)" >40.88</text>
<text x="297.9 306.3 314.7 323.1 331.5 339.9 348.3 356.7 365.1 373.5 381.9 390.3 398.7 407.1 415.5" y="78" font-size="12.5" fill="#111111" font-weight="normal" text-anchor="middle" style="white-space:pre" transform="translate(0,78) scale(1,1.1) translate(0,-78)" stroke="#111111" stroke-width="0.2">Bollinger Bands</text>
<text x="96.15 111.67 127.19 142.71 158.23 173.75 189.27 204.78 220.3 235.82 251.34 266.86 282.38 297.9 313.41" y="207" font-size="22.2" fill="#111111" font-weight="normal" text-anchor="middle" style="white-space:pre" transform="translate(0,207) scale(0.81,1) translate(0,-207)" stroke="#111111" stroke-width="0.3">December Silver</text>
<text x="3.87 13.61 23.34 33.08 42.82 52.56 62.29 72.03 81.77 91.51 101.24 110.98 120.72 130.46 140.19 149.93 159.67 169.41 179.14 188.88 198.62 208.36" y="251.4" font-size="13.2" fill="#111111" font-weight="normal" text-anchor="middle" style="white-space:pre" transform="translate(0,251.4) scale(0.8,1) translate(0,-251.4)" stroke="#111111" stroke-width="0.35">Commodity Exchange Vol</text>
<text x="590.39 597.77 605.15 612.52 619.9 627.28" y="262.2" font-size="11" fill="#202020" font-weight="normal" text-anchor="middle" style="white-space:pre" transform="translate(0,262.2) scale(0.85,1) translate(0,-262.2)" >Volume</text>
<rect x="0" y="321.2" width="21.5" height="12.5" fill="#ffffff"/>
<text x="2.66 10.6 18.53" y="331.8" font-size="12.2" fill="#101010" font-weight="normal" text-anchor="middle" style="white-space:pre" transform="translate(0,331.8) scale(0.92,1) translate(0,-331.8)" stroke="#101010" stroke-width="0.2">RSI</text>
<rect x="-1" y="372.9" width="87.3" height="13.0" fill="#ffffff" stroke="#8a8a8a" stroke-width="1"/>
<text x="1.98 9.86 17.74 25.62 33.51 41.39 49.27 57.15 65.03 72.91 80.79 88.67" y="382.5" font-size="11.8" fill="#222222" font-weight="normal" text-anchor="middle" style="white-space:pre" transform="translate(0,382.5) scale(0.92,0.96) translate(0,-382.5)" >RSI=   40.88</text>
<g stroke="#555555" stroke-width="1">
<line x1="33.8" y1="386" x2="33.8" y2="400.3"/>
<line x1="143.8" y1="386" x2="143.8" y2="400.3"/>
<line x1="270.5" y1="386" x2="270.5" y2="400.3"/>
<line x1="397" y1="386" x2="397" y2="400.3"/>
<line x1="512" y1="386" x2="512" y2="400.3"/>
<line x1="644.7" y1="386" x2="644.7" y2="400.3"/>
</g>
<text x="44.03 52.1 60.17 68.24 76.31 84.38" y="397" font-size="12.2" fill="#222222" font-weight="normal" text-anchor="middle" style="white-space:pre" transform="translate(0,397) scale(0.88,1) translate(0,-397)" >Jun 24</text>
<text x="169.03 177.1 185.17" y="397" font-size="12.2" fill="#222222" font-weight="normal" text-anchor="middle" style="white-space:pre" transform="translate(0,397) scale(0.88,1) translate(0,-397)" >Jul</text>
<text x="312.67 320.74 328.81" y="397" font-size="12.2" fill="#222222" font-weight="normal" text-anchor="middle" style="white-space:pre" transform="translate(0,397) scale(0.88,1) translate(0,-397)" >Aug</text>
<text x="456.53 464.6 472.67" y="397" font-size="12.2" fill="#222222" font-weight="normal" text-anchor="middle" style="white-space:pre" transform="translate(0,397) scale(0.88,1) translate(0,-397)" >Sep</text>
<text x="587.22 595.28 603.35" y="397" font-size="12.2" fill="#222222" font-weight="normal" text-anchor="middle" style="white-space:pre" transform="translate(0,397) scale(0.88,1) translate(0,-397)" >Oct</text>
<text x="737.44 745.51 753.58" y="397" font-size="12.2" fill="#222222" font-weight="normal" text-anchor="middle" style="white-space:pre" transform="translate(0,397) scale(0.88,1) translate(0,-397)" >Nov</text>
<path d="M760,393.1 L764.7,389.4 L764.7,391.6 L768,391.6 L768,394.7 L764.7,394.7 L764.7,396.9 Z" fill="#ff0000"/>
</svg>
</body></html>
